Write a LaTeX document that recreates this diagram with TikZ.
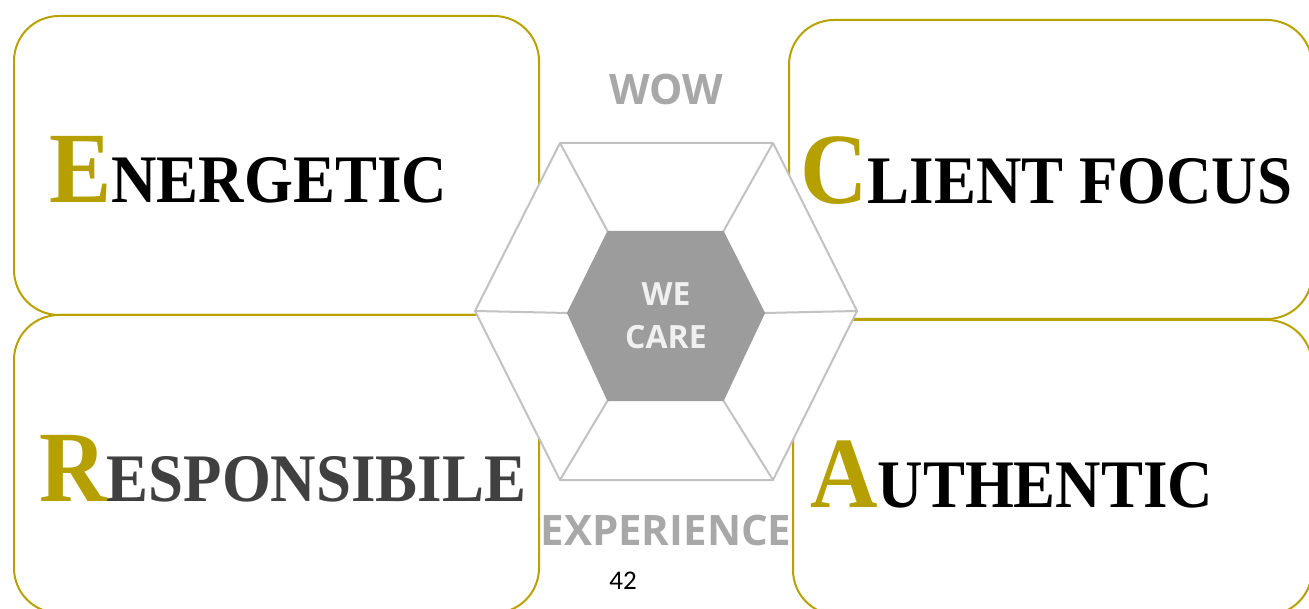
\documentclass[tikz,border=0pt]{standalone}
\usepackage{fontspec}
\setmainfont{Liberation Serif}
\newfontfamily\labelfont{Open Sans}
\newfontfamily\pagefont{Carlito}
\usepackage{xcolor}
\definecolor{BoxBorder}{RGB}{184,162,0}
\definecolor{InitialGold}{RGB}{181,160,0}
\definecolor{HexLine}{RGB}{194,194,194}
\definecolor{HexCore}{RGB}{156,156,156}
\definecolor{HexText}{RGB}{168,168,168}
\definecolor{WordGray}{RGB}{64,64,64}
\usepackage{tikz}
\usetikzlibrary{positioning}
% big gold initial, rest in smaller capitals
\newcommand{\capword}[2]{\scalebox{0.925}[1]{{\fontsize{101}{101}\selectfont\color{InitialGold}#1}{\fontsize{68}{68}\selectfont #2}}}
\tikzset{
  % rounded quadrant box
  quadbox/.style={
    draw=BoxBorder,
    line width=2pt,
    rounded corners=45pt
  },
  % value word in a box
  valueword/.style={
    anchor=base west,
    inner sep=0pt,
    font=\bfseries
  },
  % hexagon lines
  hexline/.style={
    draw=HexLine,
    line width=2pt,
    line join=round
  },
  % words above and below the hexagon
  hexlabel/.style={
    anchor=base,
    inner sep=0pt,
    font=\labelfont\bfseries\fontsize{42}{42}\selectfont,
    text=HexText
  },
  % words in the core
  corelabel/.style={
    inner sep=0pt,
    align=center,
    font=\labelfont\bfseries\fontsize{32}{43}\selectfont,
    text=white!94!black
  }
}

\begin{document}
\begin{tikzpicture}[x=1pt,y=-1pt]
  \useasboundingbox (0,0) rectangle (1309,609);
  \clip (0,0) rectangle (1309,609);
  % quadrant boxes
  \draw[quadbox] (14,16) rectangle (539,315);
  \draw[quadbox] (789,20) rectangle (1312,319);
  \draw[quadbox] (14,315) rectangle (539,613);
  \draw[quadbox] (793,320) rectangle (1312,615);
  % hexagon corners
  \foreach \k/\x/\y in {1/560/143, 2/773/143, 3/857/311, 4/773/480, 5/560/480, 6/475/311}
    \coordinate (o\k) at (\x,\y);
  \foreach \k/\x/\y in {1/608/232, 2/723/232, 3/764/313, 4/723/400, 5/608/400, 6/568/313}
    \coordinate (i\k) at (\x,\y);
  \filldraw[hexline, fill=white] (o1) -- (o2) -- (o3) -- (o4) -- (o5) -- (o6) -- cycle;
  \foreach \k in {1,...,6}
    \draw[hexline] (o\k) -- (i\k);
  \filldraw[hexline, fill=HexCore, draw=HexCore] (i1) -- (i2) -- (i3) -- (i4) -- (i5) -- (i6) -- cycle;
  % labels
  \node[hexlabel] (wow) at (666,105) {WOW};
  \node[hexlabel] (experience) at (666,545) {EXPERIENCE};
  \node[corelabel] (care) at (666,316) {WE\\CARE};
  \node[valueword] (energetic) at (49,203) {\capword{E}{NERGETIC}};
  \node[valueword] (client) at (800,204) {\capword{C}{LIENT FOCUS}};
  \node[valueword, text=WordGray] (responsible) at (39,501) {\capword{R}{ESPONSIBILE}};
  \node[valueword] (authentic) at (810,507) {\capword{A}{UTHENTIC}};
  \node[font=\pagefont\fontsize{27}{27}\selectfont, inner sep=0pt] (page) at (623,581) {42};
\end{tikzpicture}
\end{document}
